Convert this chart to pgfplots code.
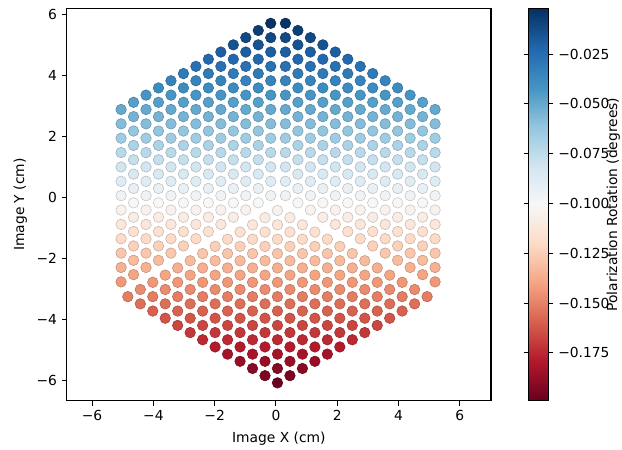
\documentclass[border=0pt]{standalone}
\usepackage{fontspec}
\setmainfont{DejaVu Sans}
\usepackage{pgfplots}
\usepackage{pgfplotstable}
\pgfplotsset{compat=1.18}
\pgfplotsset{colormap={RdBu}{rgb255=(103,0,31) rgb255=(178,24,43) rgb255=(214,96,77) rgb255=(244,165,130) rgb255=(253,219,199) rgb255=(247,247,247) rgb255=(209,229,240) rgb255=(146,197,222) rgb255=(67,147,195) rgb255=(33,102,172) rgb255=(5,48,97)}}

% left and right rhombi share rows (xl = left, xr = right)
\pgfplotstableread{
xl xr y c
-0.170 0.310 5.700 -0.0031
-0.170 0.310 5.230 -0.0108
-0.170 0.310 4.760 -0.0186
-0.170 0.310 4.290 -0.0264
-0.170 0.310 3.820 -0.0342
-0.170 0.310 3.350 -0.0420
-0.170 0.310 2.880 -0.0498
-0.170 0.310 2.410 -0.0576
-0.170 0.310 1.940 -0.0654
-0.170 0.310 1.470 -0.0732
-0.170 0.310 1.000 -0.0810
-0.170 0.310 0.530 -0.0887
-0.170 0.310 0.060 -0.0965
-0.577 0.717 5.465 -0.0069
-0.577 0.717 4.995 -0.0147
-0.577 0.717 4.525 -0.0225
-0.577 0.717 4.055 -0.0303
-0.577 0.717 3.585 -0.0381
-0.577 0.717 3.115 -0.0459
-0.577 0.717 2.645 -0.0537
-0.577 0.717 2.175 -0.0615
-0.577 0.717 1.705 -0.0693
-0.577 0.717 1.235 -0.0771
-0.577 0.717 0.765 -0.0848
-0.577 0.717 0.295 -0.0926
-0.577 0.717 -0.175 -0.1004
-0.984 1.124 5.230 -0.0108
-0.984 1.124 4.760 -0.0186
-0.984 1.124 4.290 -0.0264
-0.984 1.124 3.820 -0.0342
-0.984 1.124 3.350 -0.0420
-0.984 1.124 2.880 -0.0498
-0.984 1.124 2.410 -0.0576
-0.984 1.124 1.940 -0.0654
-0.984 1.124 1.470 -0.0732
-0.984 1.124 1.000 -0.0810
-0.984 1.124 0.530 -0.0887
-0.984 1.124 0.060 -0.0965
-0.984 1.124 -0.410 -0.1043
-1.391 1.531 4.995 -0.0147
-1.391 1.531 4.525 -0.0225
-1.391 1.531 4.055 -0.0303
-1.391 1.531 3.585 -0.0381
-1.391 1.531 3.115 -0.0459
-1.391 1.531 2.645 -0.0537
-1.391 1.531 2.175 -0.0615
-1.391 1.531 1.705 -0.0693
-1.391 1.531 1.235 -0.0771
-1.391 1.531 0.765 -0.0848
-1.391 1.531 0.295 -0.0926
-1.391 1.531 -0.175 -0.1004
-1.391 1.531 -0.645 -0.1082
-1.798 1.938 4.760 -0.0186
-1.798 1.938 4.290 -0.0264
-1.798 1.938 3.820 -0.0342
-1.798 1.938 3.350 -0.0420
-1.798 1.938 2.880 -0.0498
-1.798 1.938 2.410 -0.0576
-1.798 1.938 1.940 -0.0654
-1.798 1.938 1.470 -0.0732
-1.798 1.938 1.000 -0.0810
-1.798 1.938 0.530 -0.0887
-1.798 1.938 0.060 -0.0965
-1.798 1.938 -0.410 -0.1043
-1.798 1.938 -0.880 -0.1121
-2.205 2.345 4.525 -0.0225
-2.205 2.345 4.055 -0.0303
-2.205 2.345 3.585 -0.0381
-2.205 2.345 3.115 -0.0459
-2.205 2.345 2.645 -0.0537
-2.205 2.345 2.175 -0.0615
-2.205 2.345 1.705 -0.0693
-2.205 2.345 1.235 -0.0771
-2.205 2.345 0.765 -0.0848
-2.205 2.345 0.295 -0.0926
-2.205 2.345 -0.175 -0.1004
-2.205 2.345 -0.645 -0.1082
-2.205 2.345 -1.115 -0.1160
-2.612 2.752 4.290 -0.0264
-2.612 2.752 3.820 -0.0342
-2.612 2.752 3.350 -0.0420
-2.612 2.752 2.880 -0.0498
-2.612 2.752 2.410 -0.0576
-2.612 2.752 1.940 -0.0654
-2.612 2.752 1.470 -0.0732
-2.612 2.752 1.000 -0.0810
-2.612 2.752 0.530 -0.0887
-2.612 2.752 0.060 -0.0965
-2.612 2.752 -0.410 -0.1043
-2.612 2.752 -0.880 -0.1121
-2.612 2.752 -1.350 -0.1199
-3.019 3.159 4.055 -0.0303
-3.019 3.159 3.585 -0.0381
-3.019 3.159 3.115 -0.0459
-3.019 3.159 2.645 -0.0537
-3.019 3.159 2.175 -0.0615
-3.019 3.159 1.705 -0.0693
-3.019 3.159 1.235 -0.0771
-3.019 3.159 0.765 -0.0848
-3.019 3.159 0.295 -0.0926
-3.019 3.159 -0.175 -0.1004
-3.019 3.159 -0.645 -0.1082
-3.019 3.159 -1.115 -0.1160
-3.019 3.159 -1.585 -0.1238
-3.426 3.566 3.820 -0.0342
-3.426 3.566 3.350 -0.0420
-3.426 3.566 2.880 -0.0498
-3.426 3.566 2.410 -0.0576
-3.426 3.566 1.940 -0.0654
-3.426 3.566 1.470 -0.0732
-3.426 3.566 1.000 -0.0810
-3.426 3.566 0.530 -0.0887
-3.426 3.566 0.060 -0.0965
-3.426 3.566 -0.410 -0.1043
-3.426 3.566 -0.880 -0.1121
-3.426 3.566 -1.350 -0.1199
-3.426 3.566 -1.820 -0.1277
-3.833 3.973 3.585 -0.0381
-3.833 3.973 3.115 -0.0459
-3.833 3.973 2.645 -0.0537
-3.833 3.973 2.175 -0.0615
-3.833 3.973 1.705 -0.0693
-3.833 3.973 1.235 -0.0771
-3.833 3.973 0.765 -0.0848
-3.833 3.973 0.295 -0.0926
-3.833 3.973 -0.175 -0.1004
-3.833 3.973 -0.645 -0.1082
-3.833 3.973 -1.115 -0.1160
-3.833 3.973 -1.585 -0.1238
-3.833 3.973 -2.055 -0.1316
-4.240 4.380 3.350 -0.0420
-4.240 4.380 2.880 -0.0498
-4.240 4.380 2.410 -0.0576
-4.240 4.380 1.940 -0.0654
-4.240 4.380 1.470 -0.0732
-4.240 4.380 1.000 -0.0810
-4.240 4.380 0.530 -0.0887
-4.240 4.380 0.060 -0.0965
-4.240 4.380 -0.410 -0.1043
-4.240 4.380 -0.880 -0.1121
-4.240 4.380 -1.350 -0.1199
-4.240 4.380 -1.820 -0.1277
-4.240 4.380 -2.290 -0.1355
-4.647 4.787 3.115 -0.0459
-4.647 4.787 2.645 -0.0537
-4.647 4.787 2.175 -0.0615
-4.647 4.787 1.705 -0.0693
-4.647 4.787 1.235 -0.0771
-4.647 4.787 0.765 -0.0848
-4.647 4.787 0.295 -0.0926
-4.647 4.787 -0.175 -0.1004
-4.647 4.787 -0.645 -0.1082
-4.647 4.787 -1.115 -0.1160
-4.647 4.787 -1.585 -0.1238
-4.647 4.787 -2.055 -0.1316
-4.647 4.787 -2.525 -0.1394
-5.054 5.194 2.880 -0.0498
-5.054 5.194 2.410 -0.0576
-5.054 5.194 1.940 -0.0654
-5.054 5.194 1.470 -0.0732
-5.054 5.194 1.000 -0.0810
-5.054 5.194 0.530 -0.0887
-5.054 5.194 0.060 -0.0965
-5.054 5.194 -0.410 -0.1043
-5.054 5.194 -0.880 -0.1121
-5.054 5.194 -1.350 -0.1199
-5.054 5.194 -1.820 -0.1277
-5.054 5.194 -2.290 -0.1355
-5.054 5.194 -2.760 -0.1432
}\sides

% bottom rhombus
\pgfplotstableread{
x y c
0.050 -6.065 -0.1980
-0.357 -5.830 -0.1941
0.457 -5.830 -0.1941
-0.764 -5.595 -0.1902
0.050 -5.595 -0.1902
0.864 -5.595 -0.1902
-1.171 -5.360 -0.1863
-0.357 -5.360 -0.1863
0.457 -5.360 -0.1863
1.271 -5.360 -0.1863
-1.578 -5.125 -0.1824
-0.764 -5.125 -0.1824
0.050 -5.125 -0.1824
0.864 -5.125 -0.1824
1.678 -5.125 -0.1824
-1.985 -4.890 -0.1785
-1.171 -4.890 -0.1785
-0.357 -4.890 -0.1785
0.457 -4.890 -0.1785
1.271 -4.890 -0.1785
2.085 -4.890 -0.1785
-2.392 -4.655 -0.1746
-1.578 -4.655 -0.1746
-0.764 -4.655 -0.1746
0.050 -4.655 -0.1746
0.864 -4.655 -0.1746
1.678 -4.655 -0.1746
2.492 -4.655 -0.1746
-2.799 -4.420 -0.1707
-1.985 -4.420 -0.1707
-1.171 -4.420 -0.1707
-0.357 -4.420 -0.1707
0.457 -4.420 -0.1707
1.271 -4.420 -0.1707
2.085 -4.420 -0.1707
2.899 -4.420 -0.1707
-3.206 -4.185 -0.1668
-2.392 -4.185 -0.1668
-1.578 -4.185 -0.1668
-0.764 -4.185 -0.1668
0.050 -4.185 -0.1668
0.864 -4.185 -0.1668
1.678 -4.185 -0.1668
2.492 -4.185 -0.1668
3.306 -4.185 -0.1668
-3.613 -3.950 -0.1629
-2.799 -3.950 -0.1629
-1.985 -3.950 -0.1629
-1.171 -3.950 -0.1629
-0.357 -3.950 -0.1629
0.457 -3.950 -0.1629
1.271 -3.950 -0.1629
2.085 -3.950 -0.1629
2.899 -3.950 -0.1629
3.713 -3.950 -0.1629
-4.020 -3.715 -0.1590
-3.206 -3.715 -0.1590
-2.392 -3.715 -0.1590
-1.578 -3.715 -0.1590
-0.764 -3.715 -0.1590
0.050 -3.715 -0.1590
0.864 -3.715 -0.1590
1.678 -3.715 -0.1590
2.492 -3.715 -0.1590
3.306 -3.715 -0.1590
4.120 -3.715 -0.1590
-4.427 -3.480 -0.1552
-3.613 -3.480 -0.1552
-2.799 -3.480 -0.1552
-1.985 -3.480 -0.1552
-1.171 -3.480 -0.1552
-0.357 -3.480 -0.1552
0.457 -3.480 -0.1552
1.271 -3.480 -0.1552
2.085 -3.480 -0.1552
2.899 -3.480 -0.1552
3.713 -3.480 -0.1552
4.527 -3.480 -0.1552
-4.834 -3.245 -0.1513
-4.020 -3.245 -0.1513
-3.206 -3.245 -0.1513
-2.392 -3.245 -0.1513
-1.578 -3.245 -0.1513
-0.764 -3.245 -0.1513
0.050 -3.245 -0.1513
0.864 -3.245 -0.1513
1.678 -3.245 -0.1513
2.492 -3.245 -0.1513
3.306 -3.245 -0.1513
4.120 -3.245 -0.1513
4.934 -3.245 -0.1513
-4.427 -3.010 -0.1474
-3.613 -3.010 -0.1474
-2.799 -3.010 -0.1474
-1.985 -3.010 -0.1474
-1.171 -3.010 -0.1474
-0.357 -3.010 -0.1474
0.457 -3.010 -0.1474
1.271 -3.010 -0.1474
2.085 -3.010 -0.1474
2.899 -3.010 -0.1474
3.713 -3.010 -0.1474
4.527 -3.010 -0.1474
-4.020 -2.775 -0.1435
-3.206 -2.775 -0.1435
-2.392 -2.775 -0.1435
-1.578 -2.775 -0.1435
-0.764 -2.775 -0.1435
0.050 -2.775 -0.1435
0.864 -2.775 -0.1435
1.678 -2.775 -0.1435
2.492 -2.775 -0.1435
3.306 -2.775 -0.1435
4.120 -2.775 -0.1435
-3.613 -2.540 -0.1396
-2.799 -2.540 -0.1396
-1.985 -2.540 -0.1396
-1.171 -2.540 -0.1396
-0.357 -2.540 -0.1396
0.457 -2.540 -0.1396
1.271 -2.540 -0.1396
2.085 -2.540 -0.1396
2.899 -2.540 -0.1396
3.713 -2.540 -0.1396
-3.206 -2.305 -0.1357
-2.392 -2.305 -0.1357
-1.578 -2.305 -0.1357
-0.764 -2.305 -0.1357
0.050 -2.305 -0.1357
0.864 -2.305 -0.1357
1.678 -2.305 -0.1357
2.492 -2.305 -0.1357
3.306 -2.305 -0.1357
-2.799 -2.070 -0.1318
-1.985 -2.070 -0.1318
-1.171 -2.070 -0.1318
-0.357 -2.070 -0.1318
0.457 -2.070 -0.1318
1.271 -2.070 -0.1318
2.085 -2.070 -0.1318
2.899 -2.070 -0.1318
-2.392 -1.835 -0.1279
-1.578 -1.835 -0.1279
-0.764 -1.835 -0.1279
0.050 -1.835 -0.1279
0.864 -1.835 -0.1279
1.678 -1.835 -0.1279
2.492 -1.835 -0.1279
-1.985 -1.600 -0.1240
-1.171 -1.600 -0.1240
-0.357 -1.600 -0.1240
0.457 -1.600 -0.1240
1.271 -1.600 -0.1240
2.085 -1.600 -0.1240
-1.578 -1.365 -0.1201
-0.764 -1.365 -0.1201
0.050 -1.365 -0.1201
0.864 -1.365 -0.1201
1.678 -1.365 -0.1201
-1.171 -1.130 -0.1162
-0.357 -1.130 -0.1162
0.457 -1.130 -0.1162
1.271 -1.130 -0.1162
-0.764 -0.895 -0.1123
0.050 -0.895 -0.1123
0.864 -0.895 -0.1123
-0.357 -0.660 -0.1084
0.457 -0.660 -0.1084
0.050 -0.425 -0.1045
}\bottom

\begin{document}
\begin{tikzpicture}
\useasboundingbox (-48.0bp,-34.8bp) rectangle (399.8bp,288.5bp);
\begin{axis}[
  at={(0,0)}, anchor=south west,
  scale only axis, width=305.5bp, height=282.5bp,
  xmin=-6.83, xmax=7.02, ymin=-6.65, ymax=6.19,
  xtick={-6,-4,-2,0,2,4,6}, xticklabels={−6,−4,−2,0,2,4,6},
  ytick={-6,-4,-2,0,2,4,6}, yticklabels={−6,−4,−2,0,2,4,6},
  xtick pos=lower, ytick pos=left,
  tick align=outside, major tick length=3.5bp,
  every tick/.style={black, line width=0.8bp},
  axis line style={line width=0.8bp},
  tick label style={font=\fontsize{10}{12}\selectfont},
  label style={font=\fontsize{10}{12}\selectfont},
  xlabel={Image X (cm)}, ylabel={Image Y (cm)},
  xlabel style={yshift=-1bp},
  colormap name=RdBu,
  point meta min=-0.199, point meta max=-0.002,
  colorbar,
  colorbar style={
    at={(parent axis.north east)}, anchor=north west, xshift=18.5bp,
    width=14.4bp,
    ytick={-0.175,-0.15,-0.125,-0.1,-0.075,-0.05,-0.025},
    yticklabels={−0.175,−0.150,−0.125,−0.100,−0.075,−0.050,−0.025},
    tick align=outside, major tick length=3.5bp,
    every tick/.style={black, line width=0.8bp},
    axis line style={line width=0.8bp},
    tick label style={font=\fontsize{10}{12}\selectfont},
    ylabel={Polarization Rotation (degrees)},
    ylabel style={font=\fontsize{10}{12}\selectfont},
    ylabel shift=-9bp,
  },
]
\addplot[scatter, only marks, mark=*, mark size=3.8bp, scatter src=explicit] table[x=xl, y=y, meta=c] {\sides};
\addplot[scatter, only marks, mark=*, mark size=3.8bp, scatter src=explicit] table[x=xr, y=y, meta=c] {\sides};
\addplot[scatter, only marks, mark=*, mark size=3.8bp, scatter src=explicit] table[x=x, y=y, meta=c] {\bottom};
\end{axis}
\end{tikzpicture}
\end{document}
